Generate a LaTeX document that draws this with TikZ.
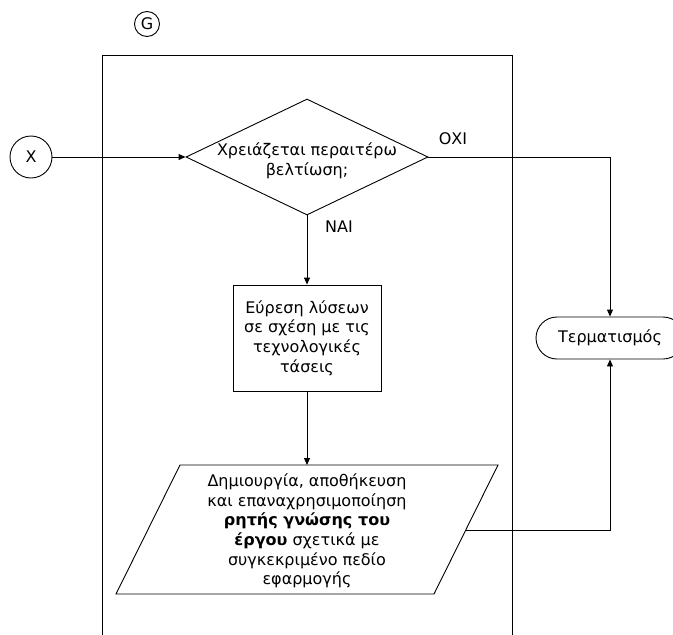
\documentclass[tikz,border=0pt]{standalone}
\usepackage{fontspec}
\setmainfont{DejaVu Sans}
\usetikzlibrary{shapes.geometric,shapes.misc,arrows.meta,calc}

\tikzset{
  base/.style={line width=0.9pt},
  conn/.style={base, -{Triangle[length=7pt,width=6pt]}},
  plain/.style={base},
  txt/.style={font=\fontsize{16}{19.6}\selectfont, align=center, inner sep=0pt},
  connector/.style={base, draw, circle, txt},
  decision/.style={base, draw, diamond, inner sep=0pt},
  process/.style={base, draw, rectangle, txt},
  terminal/.style={base, draw, rounded rectangle, txt},
}

\begin{document}
\begin{tikzpicture}[x=1pt, y=-1pt]
  \useasboundingbox (0,0) rectangle (673,635);
  \clip (0,0) rectangle (673,635);

  % frame of the G block, open at the bottom
  \draw[plain] (102,645) -- (102,55) -- (512,55) -- (512,645);

  % connectors
  \node[connector, minimum size=25pt] (G) at (147,24) {G};
  \node[connector, minimum size=42pt] (X) at (31,157) {X};

  % decision
  \node[decision, minimum width=242pt, minimum height=116pt] (dec) at (307,157) {};
  \node[txt] (dectext) at (307,161) {Χρειάζεται περαιτέρω\\βελτίωση;};

  % process step
  \node[process, minimum width=148pt, minimum height=106pt] (sol) at (307,338)
    {Εύρεση λύσεων\\σε σχέση με τις\\τεχνολογικές\\τάσεις};

  % data step (parallelogram)
  \node[txt] (store) at (307,531)
    {Δημιουργία, αποθήκευση\\και επαναχρησιμοποίηση\\\textbf{ρητής γνώσης του}\\\textbf{έργου} σχετικά με\\συγκεκριμένο πεδίο\\εφαρμογής};
  \coordinate (stNW) at (180,465);
  \coordinate (stNE) at (498,465);
  \coordinate (stSE) at (434,594);
  \coordinate (stSW) at (116,594);
  \draw[plain] (stNW) -- (stNE) -- (stSE) -- (stSW) -- cycle;
  \coordinate (sttop) at (307,465);
  \coordinate (stright) at (466,530);

  % terminator
  \node[terminal, minimum width=148pt, minimum height=42pt] (term) at (610,338) {Τερματισμός};

  % labels
  \node[txt] (no) at (453,139) {ΟΧΙ};
  \node[txt] (yes) at (339,227) {ΝΑΙ};

  % flow
  \draw[conn] (X) -- (dec.west);
  \draw[conn] (dec.east) -| (term.north);
  \draw[conn] (dec.south) -- (sol.north);
  \draw[conn] (sol.south) -- (sttop);
  \draw[conn] (stright) -| (term.south);
\end{tikzpicture}
\end{document}
